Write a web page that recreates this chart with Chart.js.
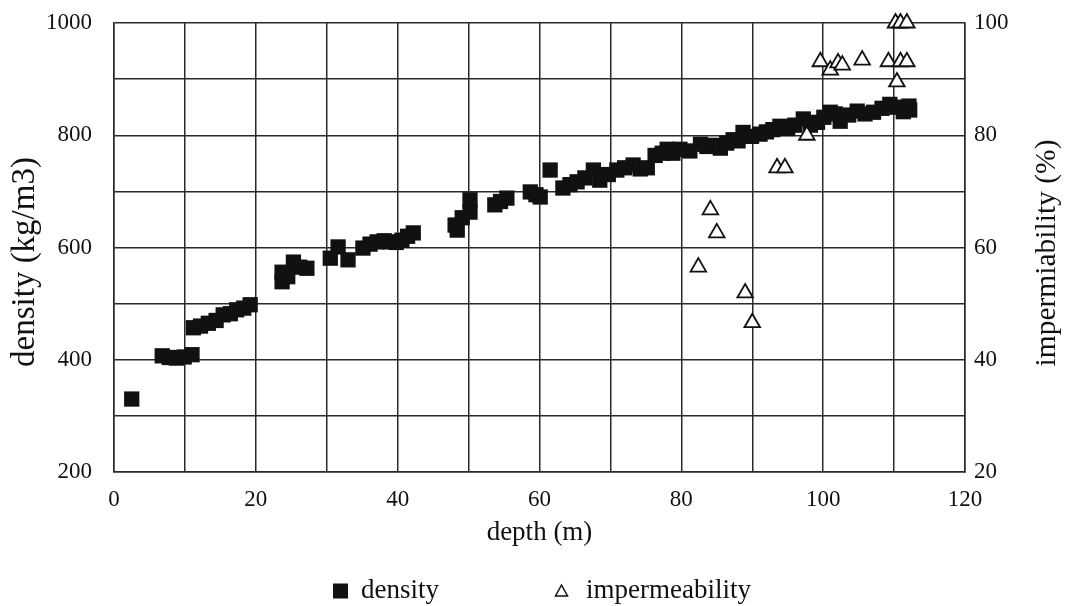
<!DOCTYPE html>
<html lang="en">
<head>
  <meta charset="UTF-8">
  <title>Density and impermeability vs depth</title>
  <style>
    html, body { margin: 0; padding: 0; background: #fff; }
    #wrap { width: 1066px; height: 606px; }
  </style>
</head>
<body>
  <div id="wrap">
    <canvas id="depthChart" width="1066" height="606"></canvas>
  </div>
  <script src="https://cdn.jsdelivr.net/npm/chart.js"></script>
  <script>
    // density points (depth in m, density in kg/m3)
    const densityDepth = [2.5, 6.8, 7.8, 8.8, 9.9, 11.0, 11.2, 12.2, 13.3, 14.4, 15.4, 16.4, 17.3, 18.3, 19.2,
      23.7, 23.7, 24.5, 25.3, 26.2, 27.2, 30.5, 31.6, 33, 35.1, 36.1, 37.1, 38.1, 38.9, 39.8, 40.6, 41.4, 42.2,
      48.1, 48.4, 49.1, 50.2, 50.2, 53.7, 54.5, 55.4, 58.7, 59.5, 60.1, 61.5, 63.3, 64.3, 65.3, 66.4, 67.6,
      68.5, 69.7, 70.9, 72.0, 73.2, 74.2, 75.2, 76.3, 77.3, 78.0, 78.8, 79.8, 81.2, 82.7, 83.6, 84.6, 85.5,
      86.4, 87.3, 88.0, 88.7, 89.9, 91.1, 92.0, 92.9, 93.9, 95.0, 96.0, 97.2, 98.2, 99.2, 100.1, 101.0, 101.7,
      102.4, 103.6, 104.8, 105.9, 107.1, 108.3, 109.4, 110.4, 111.3, 112.1, 112.2];
    const densityValues = [330, 407, 404, 403, 405, 409, 457, 460, 465, 470, 480, 482, 489, 492, 498,
      539, 556, 548, 574, 565, 563, 581, 601, 578, 599, 606, 610, 612, 610, 609, 613, 620, 626,
      640, 631, 653, 685, 663, 676, 682, 688, 699, 694, 690, 738, 706, 712, 717, 724, 738,
      720, 730, 738, 742, 747, 740, 742, 764, 768, 775, 768, 775, 772, 784, 780, 782, 777,
      786, 792, 790, 805, 798, 802, 806, 810, 816, 812, 818, 829, 818, 823, 832, 841, 838,
      825, 836, 843, 838, 841, 848, 855, 850, 842, 852, 845];

    // impermeability points (depth in m, %)
    const impermDepth = [82.4, 84.1, 85.0, 89.0, 90.0, 93.5, 94.6, 97.7, 99.6, 101.0, 102.1, 102.7,
      105.5, 109.2, 110.4, 110.9, 111.8, 110.2, 110.9, 111.8];
    const impermValues = [56.5, 66.7, 62.6, 51.9, 46.6, 74.2, 74.2, 80.0, 93.1, 91.6, 92.9, 92.5,
      93.4, 93.1, 89.5, 93.1, 93.1, 100, 100, 100];

    const depthTicks = [0, 20, 40, 60, 80, 100, 120];
    const densityTicks = [200, 400, 600, 800, 1000];
    const impermTicks = [20, 40, 60, 80, 100];

    const leftTitle = 'density (kg/m3)';
    const rightTitle = 'impermiability (%)';

    const toPoints = (xs, ys) => xs.map((x, i) => ({ x: x, y: ys[i] }));

    const ink = '#111';
    const gridInk = '#2a2a2a';
    const serif = 'Liberation Serif';

    // both side titles read bottom-to-top, so they are drawn here
    const sideTitles = {
      id: 'sideTitles',
      afterDraw(chart) {
        const ctx = chart.ctx;
        ctx.save();
        ctx.fillStyle = ink;
        ctx.textAlign = 'center';
        ctx.textBaseline = 'middle';
        ctx.translate(25, 262);
        ctx.rotate(-Math.PI / 2);
        ctx.font = '33px "' + serif + '"';
        ctx.fillText(leftTitle, 0, 0);
        ctx.restore();

        ctx.save();
        ctx.fillStyle = ink;
        ctx.textAlign = 'center';
        ctx.textBaseline = 'middle';
        ctx.translate(1047, 253);
        ctx.rotate(-Math.PI / 2);
        ctx.font = '29.5px "' + serif + '"';
        ctx.fillText(rightTitle, 0, 0);
        ctx.restore();
      }
    };

    // legend drawn under the axis title, spaced like the original
    const bottomLegend = {
      id: 'bottomLegend',
      afterDraw(chart) {
        const ctx = chart.ctx;
        const y = 591;
        ctx.save();
        ctx.font = '27px "' + serif + '"';
        ctx.textBaseline = 'middle';
        const t1 = chart.data.datasets[0].label;
        const t2 = chart.data.datasets[1].label;
        const w1 = ctx.measureText(t1).width;
        const w2 = ctx.measureText(t2).width;
        const total = 15 + 13 + w1 + 115 + 15 + 17 + w2;
        let x = 542 - total / 2;
        ctx.fillStyle = ink;
        ctx.fillRect(x, y - 7.5, 15, 15);
        x += 28;
        ctx.fillText(t1, x, y);
        x += w1 + 115;
        // small open triangle
        ctx.beginPath();
        ctx.moveTo(x + 7.5, y - 6);
        ctx.lineTo(x + 13.5, y + 5);
        ctx.lineTo(x + 1.5, y + 5);
        ctx.closePath();
        ctx.fillStyle = '#fff';
        ctx.fill();
        ctx.strokeStyle = ink;
        ctx.lineWidth = 1.5;
        ctx.stroke();
        x += 32;
        ctx.fillStyle = ink;
        ctx.fillText(t2, x, y);
        ctx.restore();
      }
    };

    const ctx = document.getElementById('depthChart').getContext('2d');
    new Chart(ctx, {
      type: 'scatter',
      data: {
        datasets: [{
          label: 'density',
          data: toPoints(densityDepth, densityValues),
          yAxisID: 'y',
          pointStyle: 'rect',
          pointRadius: 10.8,
          pointBackgroundColor: ink,
          pointBorderColor: ink,
          pointBorderWidth: 0,
          clip: false,
          order: 1
        }, {
          label: 'impermeability',
          data: toPoints(impermDepth, impermValues),
          yAxisID: 'y2',
          pointStyle: 'triangle',
          pointRadius: 9,
          pointBackgroundColor: '#fff',
          pointBorderColor: ink,
          pointBorderWidth: 1.8,
          clip: false,
          order: 0
        }]
      },
      options: {
        responsive: false,
        devicePixelRatio: 1,
        animation: false,
        layout: { padding: { left: 0, right: 0, top: 23, bottom: 57 } },
        plugins: {
          legend: { display: false },
          tooltip: { enabled: false }
        },
        scales: {
          x: {
            type: 'linear',
            min: 0,
            max: 120,
            afterFit: s => { s.height = 77; },
            ticks: {
              stepSize: 10,
              autoSkip: false,
              maxRotation: 0,
              padding: 14,
              color: ink,
              font: { family: serif, size: 23 },
              callback: v => depthTicks.includes(v) ? v : ''
            },
            grid: { color: gridInk, lineWidth: 1.5, drawTicks: false },
            border: { color: gridInk, width: 1.5 },
            title: {
              display: true,
              text: 'depth (m)',
              color: ink,
              padding: 0,
              font: { family: serif, size: 27 }
            }
          },
          y: {
            position: 'left',
            min: 200,
            max: 1000,
            afterFit: s => { s.width = 114; },
            ticks: {
              stepSize: 100,
              autoSkip: false,
              padding: 2,
              color: ink,
              font: { family: serif, size: 23 },
              callback: v => densityTicks.includes(v) ? v : ''
            },
            grid: { color: gridInk, lineWidth: 1.5, drawTicks: true, tickLength: 20, tickColor: 'rgba(0,0,0,0)' },
            border: { color: gridInk, width: 1.5 }
          },
          y2: {
            position: 'right',
            min: 20,
            max: 100,
            afterFit: s => { s.width = 101; },
            ticks: {
              stepSize: 10,
              autoSkip: false,
              padding: 2,
              color: ink,
              font: { family: serif, size: 23 },
              callback: v => impermTicks.includes(v) ? v : ''
            },
            grid: { drawOnChartArea: false, drawTicks: true, tickLength: 7, tickColor: 'rgba(0,0,0,0)' },
            border: { color: gridInk, width: 1.5 }
          }
        }
      },
      plugins: [sideTitles, bottomLegend]
    });
  </script>
</body>
</html>
